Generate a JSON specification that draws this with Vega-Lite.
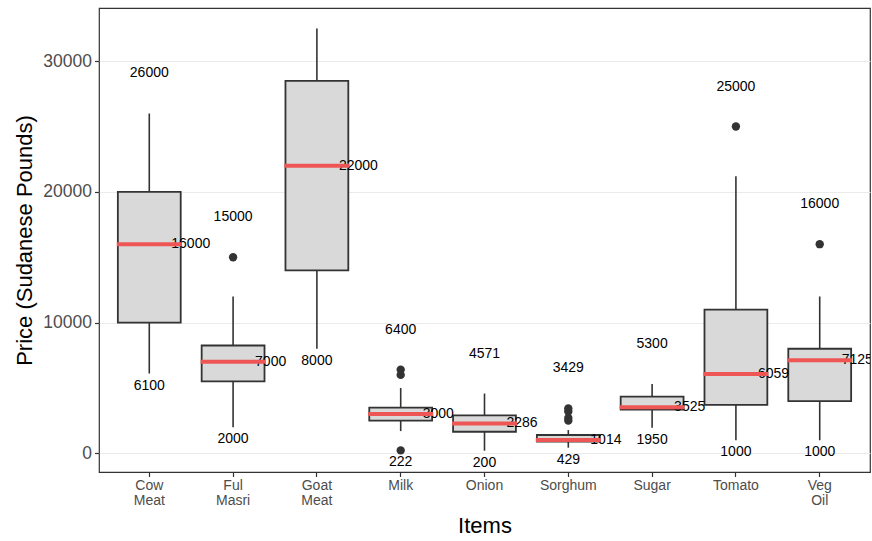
{
  "$schema": "https://vega.github.io/schema/vega-lite/v6.json",
  "width": 771,
  "height": 464,
  "autosize": {"type": "none"},
  "padding": {"left": 99, "top": 8, "right": 2, "bottom": 69},
  "background": "white",
  "config": {
    "font": "Liberation Sans",
    "view": {"stroke": "#333333", "strokeWidth": 1.2}
  },
  "datasets": {
    "boxes": [
      {"item": "Cow Meat", "lo": 6100, "q1": 10000, "med": 16000, "q3": 20000, "hi": 26000, "min": 6100, "max": 26000},
      {"item": "Ful Masri", "lo": 2000, "q1": 5500, "med": 7000, "q3": 8250, "hi": 12000, "min": 2000, "max": 15000},
      {"item": "Goat Meat", "lo": 8000, "q1": 14000, "med": 22000, "q3": 28500, "hi": 32500, "min": 8000, "max": 32500},
      {"item": "Milk", "lo": 1700, "q1": 2500, "med": 3000, "q3": 3500, "hi": 5000, "min": 222, "max": 6400},
      {"item": "Onion", "lo": 200, "q1": 1650, "med": 2286, "q3": 2900, "hi": 4571, "min": 200, "max": 4571},
      {"item": "Sorghum", "lo": 429, "q1": 900, "med": 1014, "q3": 1400, "hi": 1780, "min": 429, "max": 3429},
      {"item": "Sugar", "lo": 1950, "q1": 3350, "med": 3525, "q3": 4333, "hi": 5300, "min": 1950, "max": 5300},
      {"item": "Tomato", "lo": 1000, "q1": 3700, "med": 6059, "q3": 11000, "hi": 21200, "min": 1000, "max": 25000},
      {"item": "Veg Oil", "lo": 1000, "q1": 4000, "med": 7125, "q3": 8000, "hi": 12000, "min": 1000, "max": 16000}
    ],
    "outliers": [
      {"item": "Ful Masri", "price": 15000},
      {"item": "Milk", "price": 222},
      {"item": "Milk", "price": 6000},
      {"item": "Milk", "price": 6400},
      {"item": "Sorghum", "price": 2500},
      {"item": "Sorghum", "price": 2700},
      {"item": "Sorghum", "price": 3200},
      {"item": "Sorghum", "price": 3429},
      {"item": "Tomato", "price": 25000},
      {"item": "Veg Oil", "price": 16000}
    ]
  },
  "encoding": {
    "x": {
      "field": "item",
      "type": "nominal",
      "sort": ["Cow Meat", "Ful Masri", "Goat Meat", "Milk", "Onion", "Sorghum", "Sugar", "Tomato", "Veg Oil"],
      "scale": {"paddingInner": 0, "paddingOuter": 0.1},
      "axis": {
        "title": "Items",
        "titleFontSize": 22,
        "titleFontWeight": "normal",
        "titleColor": "#000000",
        "titlePadding": 8,
        "labelAngle": 0,
        "labelExpr": "split(datum.value, ' ')",
        "labelFontSize": 14,
        "labelColor": "#4d4d4d",
        "labelLineHeight": 15,
        "labelPadding": 2,
        "domain": false,
        "grid": false,
        "ticks": true,
        "tickColor": "#333333",
        "tickSize": 4.5,
        "tickWidth": 1.2
      }
    }
  },
  "layer": [
    {
      "data": {"name": "boxes"},
      "mark": {"type": "rule", "color": "#333333", "strokeWidth": 1.6},
      "encoding": {
        "y": {
          "field": "lo",
          "type": "quantitative",
          "scale": {"domain": [-1430, 34070], "nice": false, "zero": false},
          "axis": {
            "title": "Price (Sudanese Pounds)",
            "titleFontSize": 22,
            "titleFontWeight": "normal",
            "titleColor": "#000000",
            "titlePadding": 6,
            "values": [0, 10000, 20000, 30000],
            "format": "d",
            "labelFontSize": 17.5,
            "labelColor": "#4d4d4d",
            "labelPadding": 3,
            "domain": false,
            "grid": true,
            "gridColor": "#ebebeb",
            "gridWidth": 1,
            "tickColor": "#333333",
            "tickSize": 4.5,
            "tickWidth": 1.2
          }
        },
        "y2": {"field": "hi"}
      }
    },
    {
      "data": {"name": "boxes"},
      "mark": {"type": "bar", "width": {"band": 0.75}, "fill": "#d9d9d9", "stroke": "#333333", "strokeWidth": 1.8},
      "encoding": {
        "y": {"field": "q1", "type": "quantitative"},
        "y2": {"field": "q3"}
      }
    },
    {
      "data": {"name": "boxes"},
      "transform": [{"filter": "datum.max < 30000"}],
      "mark": {"type": "text", "dy": -40, "fontSize": 14, "color": "#000000", "clip": true},
      "encoding": {
        "y": {"field": "max", "type": "quantitative"},
        "text": {"field": "max", "type": "quantitative", "format": "d"}
      }
    },
    {
      "data": {"name": "boxes"},
      "mark": {"type": "text", "dy": 12, "fontSize": 14, "color": "#000000", "clip": true},
      "encoding": {
        "y": {"field": "min", "type": "quantitative"},
        "text": {"field": "min", "type": "quantitative", "format": "d"}
      }
    },
    {
      "data": {"name": "boxes"},
      "mark": {"type": "text", "dx": 22, "align": "left", "fontSize": 14, "color": "#000000", "clip": true},
      "encoding": {
        "y": {"field": "med", "type": "quantitative"},
        "text": {"field": "med", "type": "quantitative", "format": "d"}
      }
    },
    {
      "data": {"name": "boxes"},
      "mark": {"type": "tick", "color": "#ee5656", "size": 65, "thickness": 4, "opacity": 1},
      "encoding": {
        "y": {"field": "med", "type": "quantitative"}
      }
    },
    {
      "data": {"name": "outliers"},
      "mark": {"type": "point", "filled": true, "color": "#333333", "size": 70, "opacity": 1},
      "encoding": {
        "y": {"field": "price", "type": "quantitative"}
      }
    }
  ]
}
